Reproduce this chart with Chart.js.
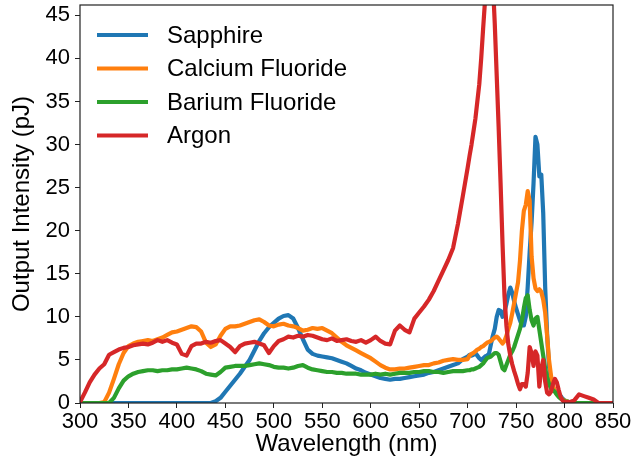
<!DOCTYPE html>
<html>
<head>
<meta charset="utf-8">
<script src="https://cdn.jsdelivr.net/npm/chart.js@4.4.0/dist/chart.umd.min.js"></script>
<style>
  html, body { margin: 0; padding: 0; background: #fff; }
  #chart { display: block; }
</style>
</head>
<body>
<canvas id="chart" width="636" height="465"></canvas>
<script>
// sampling grid (nm): 5 nm steps to 700, 2 nm through the peaks, 5 nm to 850
var wavelength = [
  300, 305, 310, 315, 320, 325, 330, 335, 340, 345,
  350, 355, 360, 365, 370, 375, 380, 385, 390, 395,
  400, 405, 410, 415, 420, 425, 430, 435, 440, 445,
  450, 455, 460, 465, 470, 475, 480, 485, 490, 495,
  500, 505, 510, 515, 520, 525, 530, 535, 540, 545,
  550, 555, 560, 565, 570, 575, 580, 585, 590, 595,
  600, 605, 610, 615, 620, 625, 630, 635, 640, 645,
  650, 655, 660, 665, 670, 675, 680, 685, 690, 695,
  700,
  702, 704, 706, 708, 710, 712, 714, 716, 718, 720,
  722, 724, 726, 728, 730, 732, 734, 736, 738, 740,
  742, 744, 746, 748, 750, 752, 754, 756, 758, 760,
  762, 764, 766, 768, 770, 772, 774, 776, 778, 780,
  782, 784, 786, 788, 790, 792, 794, 796, 798, 800,
  805, 810, 815, 820, 825, 830, 835, 840, 845, 850
];

// output intensity (pJ)
var sapphire = [
  0, 0, 0, 0, 0, 0, 0, 0, 0, 0,
  0, 0, 0, 0, 0, 0, 0, 0, 0, 0,
  0, 0, 0, 0, 0, 0, 0, 0, 0.2, 0.6,
  1.3, 2.0, 2.7, 3.4, 4.2, 5.0, 6.1, 7.2, 8.1, 8.8,
  9.3, 9.8, 10.1, 10.2, 9.8, 8.7, 7.4, 6.2, 5.7, 5.5,
  5.4, 5.3, 5.2, 5.0, 4.8, 4.6, 4.3, 4.0, 3.8, 3.5,
  3.3, 3.1, 2.9, 2.8, 2.7, 2.8, 2.8, 2.9, 3.0, 3.1,
  3.2, 3.3, 3.5, 3.6, 3.8, 4.0, 4.2, 4.4, 4.6, 5.1,
  5.4,
  5.6, 5.5, 5.6, 5.8, 5.5, 5.2, 5.0, 5.2, 5.4, 5.5,
  5.7, 6.8, 7.8, 8.6, 10.0, 10.8, 10.7, 10.0, 10.6, 11.5,
  12.6, 13.4, 12.8, 11.8, 11.0, 10.3, 9.6, 9.0, 9.0, 10.0,
  13.5, 17.5, 21.0, 25.5, 30.9, 30.0, 26.3, 26.5, 22.0, 13.5,
  8.0, 4.2, 2.6, 1.8, 1.4, 1.2, 1.0, 0.8, 0.5, 0.3,
  0.1, 0, 0, 0, 0, 0, 0, 0, 0, 0
];
var calciumFluoride = [
  0, 0, 0, 0, 0, 0.1, 1.2, 2.8, 4.5, 5.8,
  6.6, 6.9, 7.1, 7.2, 7.3, 7.2, 7.4, 7.6, 7.9, 8.2,
  8.3, 8.5, 8.7, 8.9, 8.8, 8.3, 7.0, 6.5, 6.8, 7.8,
  8.6, 8.9, 8.9, 9.0, 9.2, 9.4, 9.6, 9.7, 9.4, 9.0,
  8.9, 9.1, 9.2, 9.0, 8.9, 8.7, 8.4, 8.5, 8.7, 8.6,
  8.7, 8.4, 8.1, 7.6, 7.1, 6.7, 6.4, 6.1, 5.8, 5.5,
  5.2, 4.8, 4.4, 4.1, 3.9, 3.9, 4.0, 4.0, 4.1, 4.2,
  4.3, 4.4, 4.4, 4.6, 4.7, 4.9, 5.0, 5.1, 5.0, 5.0,
  5.1,
  5.5, 5.7, 5.8, 6.0, 6.2, 6.3, 6.5, 6.6, 6.8, 7.0,
  7.1, 7.2, 7.4, 7.6, 7.7, 7.5, 7.2, 6.9, 7.2, 7.8,
  8.6, 9.3, 10.4, 11.6, 12.8, 14.0, 16.5, 20.0, 22.3, 23.0,
  24.6, 23.5, 17.0, 14.5, 13.3, 13.0, 13.2, 12.9, 12.0, 10.5,
  7.8, 5.0, 3.2, 2.0, 1.4, 1.0, 0.8, 0.6, 0.4, 0.3,
  0.1, 0, 0, 0, 0, 0, 0, 0, 0, 0
];
var bariumFluoride = [
  0, 0, 0, 0, 0, 0, 0, 0.6, 1.7, 2.6,
  3.1, 3.4, 3.6, 3.7, 3.8, 3.8, 3.7, 3.8, 3.8, 3.9,
  3.9, 4.0, 4.1, 4.0, 3.9, 3.7, 3.4, 3.3, 3.2, 3.6,
  4.1, 4.2, 4.3, 4.3, 4.3, 4.4, 4.5, 4.6, 4.5, 4.4,
  4.2, 4.1, 4.1, 4.0, 4.1, 4.3, 4.4, 4.1, 3.9, 3.8,
  3.7, 3.6, 3.6, 3.5, 3.5, 3.4, 3.4, 3.4, 3.3, 3.3,
  3.3, 3.4, 3.3, 3.4, 3.3, 3.4, 3.5, 3.5, 3.5, 3.6,
  3.6, 3.7, 3.7, 3.6, 3.6, 3.5, 3.6, 3.7, 3.7, 3.7,
  3.8,
  3.8, 3.9, 3.9, 4.0, 4.1, 4.2, 4.4, 4.6, 4.9, 5.2,
  5.3, 5.4, 5.6, 5.8, 5.8, 5.6, 4.8, 4.0, 3.8, 4.4,
  5.0, 5.6, 6.0, 6.5, 7.2, 7.9, 8.6, 9.6, 11.0, 12.2,
  12.5, 10.8, 9.6, 9.0, 9.8, 10.0, 8.5, 7.0, 5.5, 4.0,
  2.9, 2.2, 1.7, 1.5, 1.3, 1.0, 0.7, 0.5, 0.4, 0.2,
  0.1, 0, 0, 0, 0, 0, 0, 0, 0, 0
];
var argon = [
  0.1, 1.2, 2.4, 3.3, 4.0, 4.5, 5.6, 5.9, 6.2, 6.4,
  6.5, 6.7, 6.8, 6.9, 6.8, 7.0, 7.3, 7.1, 7.3, 7.0,
  6.8, 5.7, 5.5, 6.6, 6.9, 6.9, 7.1, 7.0, 7.2, 7.3,
  6.9, 6.5, 5.9, 6.6, 6.9, 7.0, 7.1, 6.9, 6.7, 5.8,
  6.6, 7.2, 7.4, 7.7, 7.6, 7.8, 7.7, 7.9, 7.8, 7.6,
  7.4, 7.3, 7.5, 7.2, 7.3, 7.4, 7.2, 7.1, 7.3, 7.0,
  7.3, 7.7, 7.2, 6.9, 6.8, 8.4, 9.0, 8.5, 8.2, 9.8,
  10.5, 11.2, 12.0, 13.0, 14.2, 15.4, 16.6, 18.0, 20.8, 24.0,
  27.3,
  28.7, 30.0, 31.5, 33.0, 35.0, 37.0, 40.0, 43.5, 46.8, 48.5,
  50.0, 50.5, 49.0, 44.0, 38.0, 32.0, 25.5, 18.5, 12.5, 9.0,
  6.8, 5.5, 4.5, 3.7, 3.0, 2.2, 1.6, 2.2, 2.2, 1.9,
  3.5, 6.5, 5.8, 4.3, 6.0, 5.5, 1.9, 4.0, 5.0, 2.5,
  1.2, 1.0, 1.3, 2.2, 2.8, 2.4, 1.5, 0.7, 0.3, 0.1,
  0.1, 0.3, 1.0, 0.8, 0.6, 0.4, 0, 0, 0, 0
];

var seriesNames = ['Sapphire', 'Calcium Fluoride', 'Barium Fluoride', 'Argon'];
var seriesColors = ['#1f77b4', '#ff7f0e', '#2ca02c', '#d62728'];
var seriesValues = [sapphire, calciumFluoride, bariumFluoride, argon];

var FONT = '"Liberation Sans", Arial, "DejaVu Sans", sans-serif';

function toPoints(values) {
  return wavelength.map(function (w, i) { return { x: w, y: values[i] }; });
}

// box round the plot area, drawn over the curves
var framePlugin = {
  id: 'frame',
  afterDatasetsDraw: function (chart) {
    var a = chart.chartArea, ctx = chart.ctx;
    ctx.save();
    ctx.strokeStyle = '#222';
    ctx.lineWidth = 1.2;
    ctx.strokeRect(a.left, a.top, a.right - a.left, a.bottom - a.top);
    ctx.restore();
  }
};

// legend sits inside the top-left of the plot, no frame
var insideLegend = {
  id: 'insideLegend',
  afterDraw: function (chart) {
    var a = chart.chartArea, ctx = chart.ctx;
    ctx.save();
    ctx.font = '24px ' + FONT;
    ctx.textBaseline = 'middle';
    ctx.fillStyle = '#000';
    chart.data.datasets.forEach(function (ds, i) {
      var y = a.top + 30 + i * 33.5;
      ctx.strokeStyle = ds.borderColor;
      ctx.lineWidth = 4;
      ctx.lineCap = 'butt';
      ctx.beginPath();
      ctx.moveTo(a.left + 17, y);
      ctx.lineTo(a.left + 68, y);
      ctx.stroke();
      ctx.fillText(ds.label, a.left + 87, y + 1);
    });
    ctx.restore();
  }
};

var datasets = seriesNames.map(function (name, i) {
  return {
    label: name,
    data: toPoints(seriesValues[i]),
    borderColor: seriesColors[i],
    backgroundColor: seriesColors[i],
    borderWidth: 4.2,
    pointRadius: 0,
    tension: 0,
    fill: false,
    borderJoinStyle: 'round',
    borderCapStyle: 'round',
    order: seriesNames.length - 1 - i // argon drawn last, on top
  };
});

new Chart(document.getElementById('chart'), {
  type: 'line',
  data: { datasets: datasets },
  options: {
    responsive: false,
    animation: false,
    devicePixelRatio: 1,
    layout: { padding: { left: 0, right: 23, top: 5, bottom: 0 } },
    plugins: {
      legend: { display: false },
      tooltip: { enabled: false }
    },
    scales: {
      x: {
        type: 'linear',
        min: 300,
        max: 850,
        border: { display: false },
        grid: { drawOnChartArea: false, tickLength: 5, color: '#222' },
        ticks: {
          stepSize: 50,
          autoSkip: false,
          maxRotation: 0,
          padding: 1,
          color: '#000',
          font: { family: FONT, size: 22 }
        },
        title: {
          display: true,
          text: 'Wavelength (nm)',
          color: '#000',
          font: { family: FONT, size: 24 },
          padding: { top: 0, bottom: 6 }
        },
        afterFit: function (scale) {
          scale.height = 62;
          scale.paddingLeft = 0;
          scale.paddingRight = 0;
        }
      },
      y: {
        min: 0,
        max: 46.2,
        border: { display: false },
        grid: { drawOnChartArea: false, tickLength: 5, color: '#222' },
        ticks: {
          stepSize: 5,
          includeBounds: false,
          padding: 5,
          color: '#000',
          font: { family: FONT, size: 22 }
        },
        title: {
          display: true,
          text: 'Output Intensity (pJ)',
          color: '#000',
          font: { family: FONT, size: 24 },
          padding: { top: 8, bottom: 0 }
        },
        afterFit: function (scale) {
          scale.width = 80;
          scale.paddingTop = 0;
          scale.paddingBottom = 0;
        }
      }
    }
  },
  plugins: [framePlugin, insideLegend]
});
</script>
</body>
</html>
